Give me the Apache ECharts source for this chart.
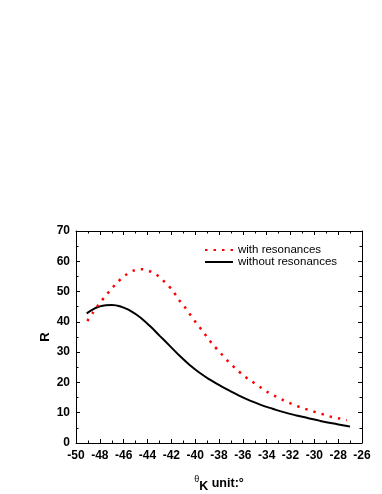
<!DOCTYPE html>
<html>
<head>
<meta charset="utf-8">
<script src="https://cdn.jsdelivr.net/npm/echarts@6/dist/echarts.min.js"></script>
<style>
html,body{margin:0;padding:0;background:#fff;}
#chart{width:382px;height:494px;}
</style>
</head>
<body>
<div id="chart"></div>
<script>
// Series: with resonances (red dotted)
const redX = [-49.05,-48.60,-48.13,-47.62,-47.09,-46.48,-45.86,-45.19,-44.49,-43.85,-43.18,-42.53,-41.89,-41.42,-40.91,-40.44,-39.96,-39.46,-38.95,-38.45,-37.84,-37.22,-36.58,-35.91,-35.23,-34.56,-33.92,-33.25,-32.58,-31.91,-31.24,-30.56,-29.89,-29.22,-28.55,-27.88,-27.27];
const redY = [40.3,42.9,45.6,48.1,50.6,53.2,55.4,56.9,57.4,56.8,55.4,53.0,50.4,47.6,45.1,42.5,39.9,37.4,34.7,32.2,29.6,26.9,24.5,22.2,20.3,18.5,16.8,15.4,14.1,12.9,11.9,11.0,10.2,9.4,8.6,8.1,7.5];
// Series: without resonances (black solid)
const blackX = [-49.1,-48.5,-48,-47.5,-47,-46.5,-46,-45.5,-45,-44.5,-43.79,-42.95,-42.11,-41.28,-40.44,-39.60,-38.76,-37.92,-37.08,-36.24,-35.40,-34.5,-33.5,-32.5,-31.5,-30.5,-29.5,-28.5,-27.5,-27];
const blackY = [42.8,44.3,45.1,45.5,45.6,45.3,44.7,43.8,42.6,41.1,38.6,35.3,32.0,28.7,25.7,23.1,20.9,19.0,17.2,15.5,14.0,12.6,11.3,10.1,9.1,8.2,7.3,6.5,5.8,5.4];
const seriesNames = ['with resonances', 'without resonances'];
// Axes
const xMin = -50, xMax = -26, xStep = 2;
const yMin = 0, yMax = 70, yStep = 10;

const toPairs = (xs, ys) => xs.map((x, i) => [x, ys[i]]);

const chart = echarts.init(document.getElementById('chart'), null, {renderer: 'canvas'});
const font = 'Arial, "Liberation Sans", sans-serif';
const baseAxis = {
  axisLine: {show: true, onZero: false, lineStyle: {color: '#000', width: 1}},
  axisTick: {show: true, inside: true, length: 4, lineStyle: {color: '#000', width: 1}},
  minorTick: {show: true, splitNumber: 2, length: 2.5, lineStyle: {color: '#000', width: 1}},
  splitLine: {show: false},
  minorSplitLine: {show: false}
};

chart.setOption({
  animation: false,
  backgroundColor: '#fff',
  grid: {left: 76, right: 20, top: 231, bottom: 50, containLabel: false},
  legend: {
    orient: 'vertical',
    left: 199,
    top: 239,
    itemWidth: 28,
    itemHeight: 8,
    itemGap: 0,
    itemStyle: {opacity: 0},
    textStyle: {fontFamily: font, fontSize: 11.5, color: '#000', lineHeight: 11},
    data: seriesNames
  },
  xAxis: [
    Object.assign({}, baseAxis, {
      type: 'value', position: 'bottom', min: xMin, max: xMax, interval: xStep,
      axisLabel: {fontFamily: font, fontSize: 12, fontWeight: 'bold', color: '#000', margin: 7},
      name: '{t|θ}{k|K}{u| unit:°}',
      nameLocation: 'middle',
      nameGap: 32,
      nameMoveOverlap: false,
      nameTextStyle: {
        rich: {
          t: {fontFamily: font, fontSize: 9, color: '#000', verticalAlign: 'top', padding: [0,0,5,0]},
          k: {fontFamily: font, fontSize: 12.5, fontWeight: 'bold', color: '#000', padding: [5,0,0,0]},
          u: {fontFamily: font, fontSize: 12.5, fontWeight: 'bold', color: '#000'}
        }
      }
    }),
    Object.assign({}, baseAxis, {
      type: 'value', position: 'top', min: xMin, max: xMax, interval: xStep,
      axisLabel: {show: false}
    })
  ],
  yAxis: [
    Object.assign({}, baseAxis, {
      type: 'value', position: 'left', min: yMin, max: yMax, interval: yStep,
      axisLabel: {fontFamily: font, fontSize: 12, fontWeight: 'bold', color: '#000', margin: 6},
      name: 'R',
      nameLocation: 'middle',
      nameGap: 24,
      nameMoveOverlap: false,
      nameTextStyle: {fontFamily: font, fontSize: 13, fontWeight: 'bold', color: '#000'}
    }),
    Object.assign({}, baseAxis, {
      type: 'value', position: 'right', min: yMin, max: yMax, interval: yStep,
      axisLabel: {show: false}
    })
  ],
  series: [
    {
      name: seriesNames[0],
      type: 'line',
      xAxisIndex: 0, yAxisIndex: 0,
      data: toPairs(redX, redY),
      smooth: 0.3,
      symbol: 'none',
      lineStyle: {color: '#ff0000', width: 2.5, type: [2.5, 6]},
      itemStyle: {color: '#ff0000'},
      z: 3
    },
    {
      name: seriesNames[1],
      type: 'line',
      xAxisIndex: 0, yAxisIndex: 0,
      data: toPairs(blackX, blackY),
      smooth: 0.5,
      symbol: 'none',
      lineStyle: {color: '#000', width: 2},
      itemStyle: {color: '#000'},
      z: 2
    }
  ]
});
</script>
</body>
</html>
